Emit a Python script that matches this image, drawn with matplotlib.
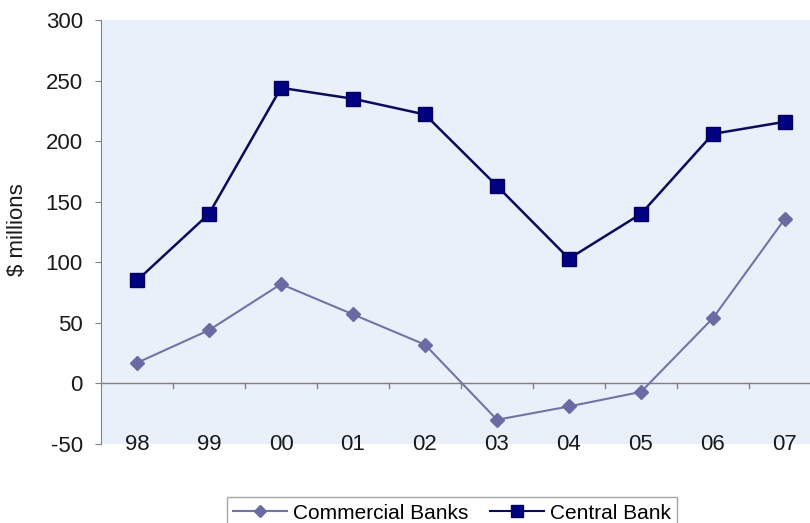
import matplotlib.pyplot as plt
from matplotlib.lines import Line2D

years = ["98", "99", "00", "01", "02", "03", "04", "05", "06", "07"]
commercial = [17, 44, 82, 57, 32, -30, -19, -7, 54, 136]
central = [85, 140, 244, 235, 222, 163, 103, 140, 206, 216]

plt.rcParams['font.family'] = ['Liberation Sans', 'DejaVu Sans']
plt.rcParams['axes.unicode_minus'] = False

fig = plt.figure(figsize=(8.1, 5.23), dpi=100)
ax = fig.add_axes([101 / 810, 79 / 523, 720 / 810, 424 / 523])
ax.set_facecolor('#EAF0FA')

x = list(range(len(years)))
ax.plot(x, commercial, color='#7373A6', lw=1.5, marker='D', ms=7,
        mfc='#6B6BA3', mec='#6B6BA3', label='Commercial Banks', zorder=3)
ax.plot(x, central, color='#0B0B5E', lw=1.8, marker='s', ms=10,
        mfc='#000080', mec='#000060', label='Central Bank', zorder=3)

ax.set_xlim(-0.5, 9.5)
ax.set_ylim(-50, 300)
ax.set_yticks(range(-50, 301, 50))
ax.tick_params(axis='y', direction='out', length=4, color='#808080',
               labelsize=16, pad=9, labelcolor='#1a1a1a')

# category axis drawn along zero, ticks between the categories
ax.axhline(0, color='#808080', lw=1, zorder=2)
ax.set_xticks([])
for xb in range(len(years) - 1):
    ax.plot([xb + 0.5, xb + 0.5], [0, -3.5], color='#808080', lw=1,
            zorder=2, clip_on=False)
for xi, lab in zip(x, years):
    ax.text(xi, -50, lab, ha='center', va='center', fontsize=16,
            color='#1a1a1a')

for side in ['top', 'right', 'bottom']:
    ax.spines[side].set_visible(False)
ax.spines['left'].set_color('#808080')

fig.text(18 / 810, 1 - 230 / 523, '$ millions', rotation=90, ha='center',
         va='center', fontsize=16, color='#1a1a1a')

handles = [
    Line2D([], [], color='#7373A6', lw=1.5, marker='D', ms=6,
           mfc='#6B6BA3', mec='#6B6BA3'),
    Line2D([], [], color='#0B0B5E', lw=1.5, marker='s', ms=8,
           mfc='#000080', mec='#000060'),
]
fig.legend(handles, ['Commercial Banks', 'Central Bank'], loc='upper center',
           bbox_to_anchor=(452 / 810, 1 - 487 / 523), ncol=2, fontsize=15,
           frameon=True, fancybox=False, edgecolor='#909090', handlelength=2.6,
           columnspacing=1.0, borderpad=0.3, handletextpad=0.3)

fig.savefig('out.png', dpi=100)
